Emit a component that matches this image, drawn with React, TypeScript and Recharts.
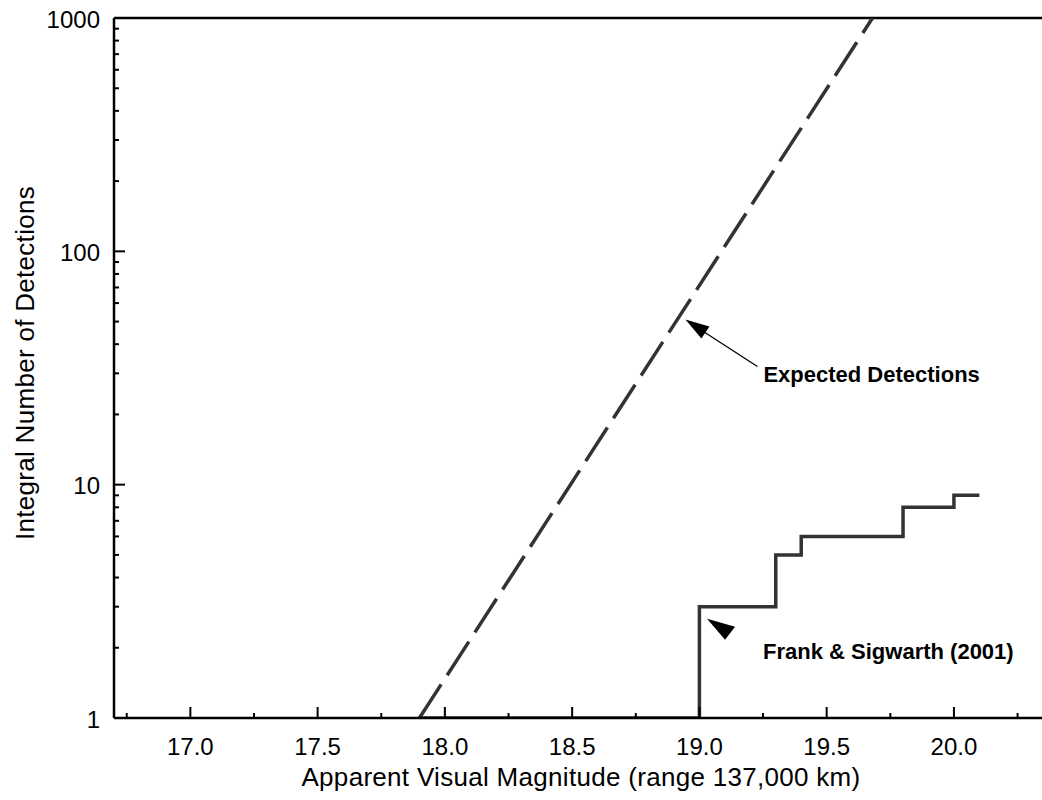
import React from 'react';
import { ComposedChart, Line, XAxis, YAxis, ReferenceLine, ReferenceDot } from 'recharts';

// expected detections (straight line in log space)
const expectedMag = [17.9, 19.68];
const expectedCount = [1, 1000];

// Frank & Sigwarth (2001) cumulative counts
const observedMag = [17.9, 19.0, 19.3, 19.4, 19.8, 20.0, 20.1];
const observedCount = [1, 3, 5, 6, 8, 9, 9];

const xTicks = [16.75, 17.0, 17.25, 17.5, 17.75, 18.0, 18.25, 18.5, 18.75, 19.0, 19.25, 19.5, 19.75, 20.0, 20.25];
const yTicks = [1, 2, 3, 4, 5, 6, 7, 8, 9, 10, 20, 30, 40, 50, 60, 70, 80, 90, 100, 200, 300, 400, 500, 600, 700, 800, 900, 1000];

// annotation anchors (arrow tips, data coords)
const expectedArrow = { x: 18.945, y: 51 };
const frankArrow = { x: 19.03, y: 2.66 };

const expectedData = expectedMag.map((x, i) => ({ x, y: expectedCount[i] }));
const observedData = observedMag.map((x, i) => ({ x, y: observedCount[i] }));

const FONT = '"Liberation Sans", Arial, sans-serif';

const XTick = (props: any) => {
  const { x, y, payload } = props;
  const v = payload.value as number;
  const major = Math.abs(v * 2 - Math.round(v * 2)) < 1e-6;
  return (
    <g>
      <line x1={x} x2={x} y1={y} y2={y - (major ? 11 : 5)} stroke="#000" strokeWidth={2} />
      {major && (
        <text x={x} y={y + 37} textAnchor="middle" fontSize={24} fontFamily={FONT} fill="#000">
          {v.toFixed(1)}
        </text>
      )}
    </g>
  );
};

const YTick = (props: any) => {
  const { x, y, payload } = props;
  const v = payload.value as number;
  const lg = Math.log10(v);
  const major = Math.abs(lg - Math.round(lg)) < 1e-6;
  return (
    <g>
      <line x1={x} x2={x + (major ? 11 : 5)} y1={y} y2={y} stroke="#000" strokeWidth={2} />
      {major && (
        <text x={x - 14} y={y + 1} textAnchor="end" dominantBaseline="central" fontSize={24} fontFamily={FONT} fill="#000">
          {v}
        </text>
      )}
    </g>
  );
};

const ExpectedNote = (props: any) => {
  const { cx, cy } = props;
  return (
    <g>
      <line x1={cx + 18} y1={cy + 12} x2={cx + 72} y2={cy + 47} stroke="#000" strokeWidth={1.3} />
      <polygon points={`${cx},${cy} ${cx + 16},${cy + 19} ${cx + 24},${cy + 7}`} fill="#000" />
      <text x={cx + 78} y={cy + 55} dominantBaseline="central" fontSize={22} fontWeight="bold" fontFamily={FONT} fill="#000">
        Expected Detections
      </text>
    </g>
  );
};

const FrankNote = (props: any) => {
  const { cx, cy } = props;
  return (
    <g>
      <polygon points={`${cx},${cy} ${cx + 28},${cy + 8} ${cx + 18},${cy + 21}`} fill="#000" />
      <text x={cx + 56} y={cy + 33} dominantBaseline="central" fontSize={22} fontWeight="bold" fontFamily={FONT} fill="#000">
        Frank &amp; Sigwarth (2001)
      </text>
    </g>
  );
};

const App: React.FC = () => {
  return (
    <div style={{ position: 'absolute', left: 0, top: 0, background: '#fff' }}>
      <ComposedChart width={1042} height={800} margin={{ top: 18, right: 0, left: 0, bottom: 0 }}>
        <XAxis
          type="number"
          dataKey="x"
          domain={[16.7, 20.346]}
          allowDataOverflow
          ticks={xTicks}
          interval={0}
          tickSize={0}
          tickMargin={0}
          tick={<XTick />}
          height={82}
          axisLine={{ stroke: '#000', strokeWidth: 2.5 }}
          label={{
            content: (p: any) => {
              const vb = p.viewBox;
              return (
                <text x={vb.x + vb.width / 2 + 3} y={vb.y + 68} textAnchor="middle" fontSize={26} letterSpacing={0.3} fontFamily={FONT} fill="#000">
                  Apparent Visual Magnitude (range 137,000 km)
                </text>
              );
            },
          }}
        />
        <YAxis
          type="number"
          dataKey="y"
          scale="log"
          domain={[1, 1000]}
          allowDataOverflow
          ticks={yTicks}
          interval={0}
          tickSize={0}
          tickMargin={0}
          tick={<YTick />}
          width={114}
          axisLine={{ stroke: '#000', strokeWidth: 2.5 }}
          label={{
            content: (p: any) => {
              const vb = p.viewBox;
              const cy = vb.y + vb.height / 2 - 5;
              return (
                <text x={34} y={cy} transform={`rotate(-90 34 ${cy})`} textAnchor="middle" fontSize={26} letterSpacing={0.3} fontFamily={FONT} fill="#000">
                  Integral Number of Detections
                </text>
              );
            },
          }}
        />
        <ReferenceLine y={1000} stroke="#000" strokeWidth={2.5} />
        <Line
          data={expectedData}
          dataKey="y"
          type="linear"
          stroke="#333"
          strokeWidth={3.5}
          strokeDasharray="40 11"
          dot={false}
          isAnimationActive={false}
        />
        <Line
          data={observedData}
          dataKey="y"
          type="stepAfter"
          stroke="#333"
          strokeWidth={3.5}
          dot={false}
          isAnimationActive={false}
        />
        <ReferenceDot x={expectedArrow.x} y={expectedArrow.y} r={0} shape={<ExpectedNote />} />
        <ReferenceDot x={frankArrow.x} y={frankArrow.y} r={0} shape={<FrankNote />} />
      </ComposedChart>
    </div>
  );
};

export default App;
